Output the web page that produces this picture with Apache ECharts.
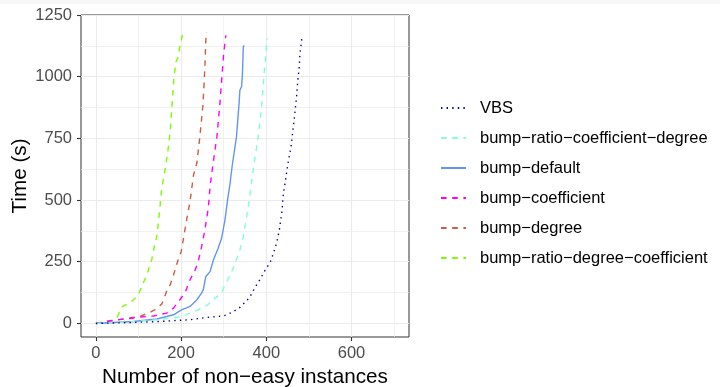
<!DOCTYPE html>
<html>
<head>
<meta charset="utf-8">
<script src="https://cdn.jsdelivr.net/npm/echarts@6/dist/echarts.min.js"></script>
<style>
  html, body { margin: 0; padding: 0; background: #fff; }
  #chart { width: 720px; height: 387px; }
  #strip { position: absolute; left: 0; top: 0; width: 720px; height: 4px; background: #f7f7f7; z-index: 5; }
</style>
</head>
<body>
<div id="strip"></div>
<div id="chart"></div>
<script>
// series names, in legend order
const seriesNames = [
  "VBS",
  "bump\u2212ratio\u2212coefficient\u2212degree",
  "bump\u2212default",
  "bump\u2212coefficient",
  "bump\u2212degree",
  "bump\u2212ratio\u2212degree\u2212coefficient",
];

// [instances solved, time in s]
const vbs = [[0,0],[88,4],[150,8],[221,15],[260,24],[299,30],[320,45],[338,65],[354,92],[362,109],[375,150],[385,177],[395,210],[409,247],[418,291],[424,325],[430,372],[434,420],[437,460],[440,527],[444,568],[448,615],[451,650],[458,716],[463,790],[467,851],[471,918],[474,986],[477,1033],[479,1094],[481,1121],[484,1164]];
const ratioCoefDeg = [[0,0],[60,5],[127,12],[197,26],[233,50],[260,72],[280,103],[295,123],[303,157],[315,195],[327,244],[338,298],[346,352],[354,433],[362,527],[370,630],[381,756],[389,880],[395,1013],[399,1094],[402,1155]];
const bumpDefault = [[0,0],[40,4],[88,8],[143,18],[182,35],[201,55],[221,69],[237,96],[248,123],[252,136],[258,190],[268,210],[276,258],[287,305],[295,345],[303,420],[309,500],[315,568],[320,640],[330,756],[336,891],[338,945],[342,960],[344,1013],[346,1121],[348,1127]];
const bumpCoef = [[0,0],[49,15],[80,20],[103,26],[135,30],[166,42],[182,62],[197,96],[209,123],[221,177],[233,217],[240,250],[248,310],[256,380],[264,470],[268,554],[273,622],[276,660],[284,756],[291,890],[297,1026],[300,1094],[305,1168]];
const bumpDegree = [[0,0],[25,8],[50,14],[80,22],[103,28],[127,45],[143,60],[155,80],[166,130],[174,155],[182,195],[193,258],[200,290],[205,339],[213,420],[221,495],[229,600],[237,650],[244,756],[251,880],[254,972],[256,1050],[258,1148],[260,1181]];
const ratioDegCoef = [[0,0],[20,5],[40,14],[50,25],[55,45],[62,68],[75,80],[88,95],[100,118],[111,163],[120,200],[131,258],[138,320],[143,352],[149,447],[154,540],[160,600],[164,640],[169,700],[174,770],[179,890],[183,990],[188,1060],[193,1080],[196,1114],[204,1175]];

// tick values
const xMajor = [0, 200, 400, 600];
const xMinor = [100, 300, 500, 700];
const yMajor = [0, 250, 500, 750, 1000, 1250];
const yMinor = [125, 375, 625, 875, 1125];

const seriesData = [vbs, ratioCoefDeg, bumpDefault, bumpCoef, bumpDegree, ratioDegCoef];
const colors = ["#00008B", "#7FFFD4", "#6495ED", "#FF00FF", "#CD5B45", "#7CFC00"];
const dashes = [[1.4, 4.2], [5.6, 5.6], "solid", [5.6, 5.6], [5.6, 5.6], [5.6, 5.6]];

const FONT = "Liberation Sans, Arial, sans-serif";
const gridColor = "#EBEBEB";

const chart = echarts.init(document.getElementById("chart"), null, { renderer: "canvas" });

const xRange = { min: -35, max: 735 };
const yRange = { min: -55, max: 1250 };
const plain = (v) => String(v);

const option = {
  animation: false,
  backgroundColor: "#fff",
  grid: {
    left: 81, top: 15, width: 328, height: 322,
    outerBoundsMode: "none",
    containLabel: false,
    show: true, borderColor: "#333333", borderWidth: 1, backgroundColor: "#fff",
  },
  legend: {
    orient: "vertical",
    left: 435, top: 93,
    itemWidth: 25, itemHeight: 20, itemGap: 10,
    itemStyle: { opacity: 0 },
    textStyle: { fontFamily: FONT, fontSize: 16.5, color: "#000", lineHeight: 20, padding: [0, 0, 0, 9] },
    data: seriesNames,
  },
  xAxis: [
    {
      type: "value", ...xRange,
      name: "Number of non\u2212easy instances",
      nameLocation: "middle", nameGap: 28,
      nameTextStyle: { fontFamily: FONT, fontSize: 20.7, color: "#000" },
      axisLine: { show: false, onZero: false },
      axisTick: { show: true, length: 4, customValues: xMajor, lineStyle: { color: "#333", width: 1.1 } },
      axisLabel: { customValues: xMajor, formatter: plain, margin: 8, fontFamily: FONT, fontSize: 16.5, color: "#4D4D4D" },
      splitLine: { show: true, lineStyle: { color: gridColor, width: 1.2 } },
    },
    {
      type: "value", ...xRange, position: "top",
      axisLine: { show: false, onZero: false },
      axisTick: { show: false, customValues: xMinor },
      axisLabel: { show: false, customValues: xMinor },
      splitLine: { show: true, lineStyle: { color: gridColor, width: 0.7 } },
    },
  ],
  yAxis: [
    {
      type: "value", ...yRange,
      name: "Time (s)",
      nameLocation: "middle", nameGap: 50, nameRotate: 90,
      nameTextStyle: { fontFamily: FONT, fontSize: 20.7, color: "#000" },
      axisLine: { show: false, onZero: false },
      axisTick: { show: true, length: 4, customValues: yMajor, lineStyle: { color: "#333", width: 1.1 } },
      axisLabel: { customValues: yMajor, formatter: plain, margin: 9, fontFamily: FONT, fontSize: 16.5, color: "#4D4D4D" },
      splitLine: { show: true, lineStyle: { color: gridColor, width: 1.2 } },
    },
    {
      type: "value", ...yRange, position: "right",
      axisLine: { show: false, onZero: false },
      axisTick: { show: false, customValues: yMinor },
      axisLabel: { show: false, customValues: yMinor },
      splitLine: { show: true, lineStyle: { color: gridColor, width: 0.7 } },
    },
  ],
  series: seriesNames.map((name, i) => ({
    name,
    type: "line",
    data: seriesData[i],
    xAxisIndex: 0,
    yAxisIndex: 0,
    symbol: "none",
    showSymbol: false,
    color: colors[i],
    lineStyle: { color: colors[i], width: 1.4, type: dashes[i] },
    z: 10 - i,
  })),
};

chart.setOption(option);
</script>
</body>
</html>
